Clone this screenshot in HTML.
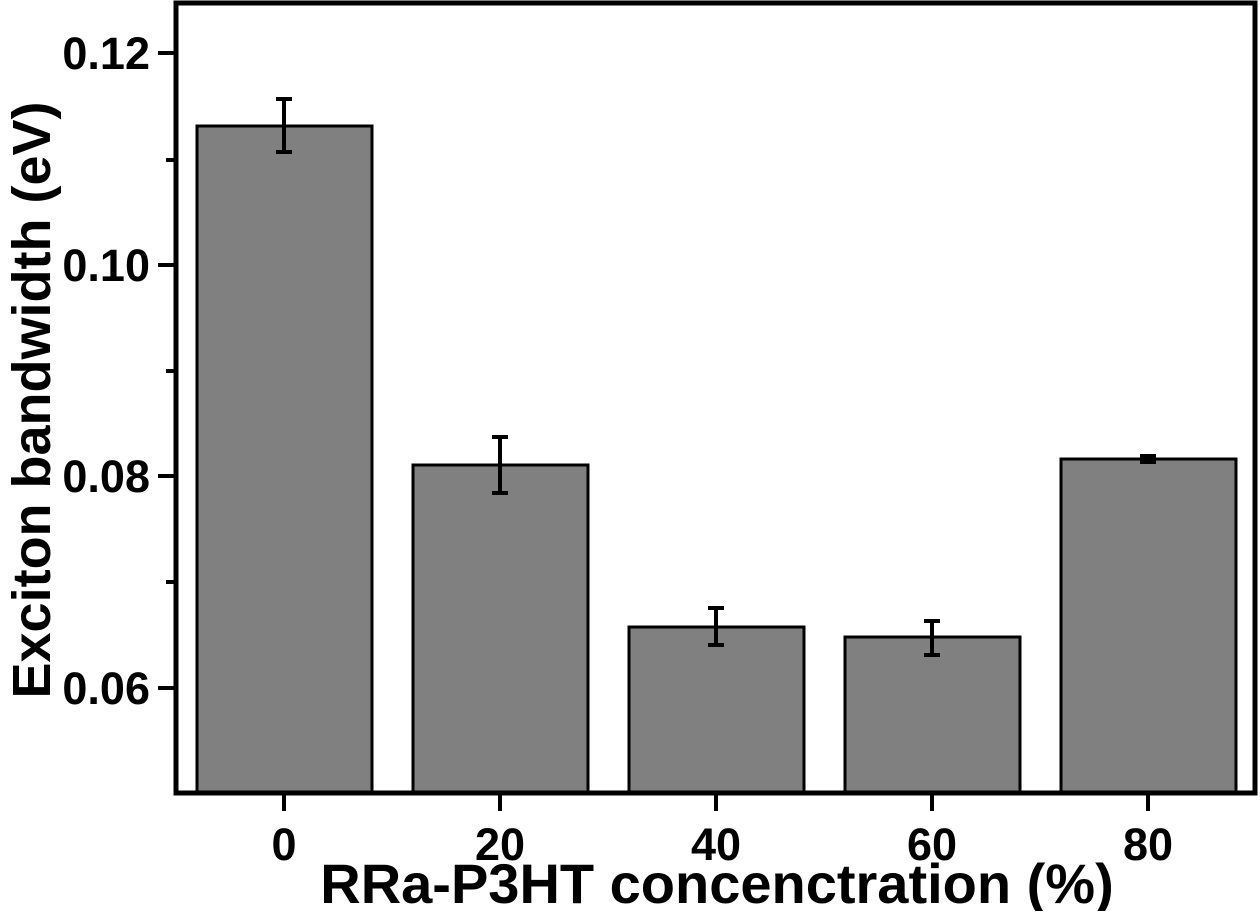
<!DOCTYPE html>
<html><head><meta charset="utf-8"><style>html,body{margin:0;padding:0;background:#fff}</style></head>
<body>
<svg width="1260" height="911" viewBox="0 0 1260 911" xmlns="http://www.w3.org/2000/svg" font-family="Liberation Sans, sans-serif" font-weight="bold">
<rect width="1260" height="911" fill="#fff"/>
<g fill="#808080" stroke="#000" stroke-width="3">
<rect x="197" y="126" width="175" height="667"/>
<rect x="413" y="465" width="175" height="328"/>
<rect x="629" y="627" width="175" height="166"/>
<rect x="845" y="637" width="175" height="156"/>
<rect x="1061" y="459" width="175" height="334"/>
</g>
<g stroke="#000" stroke-width="4" fill="none">
<path d="M284 99V152M276 99H292M276 152H292"/>
<path d="M500 437V493M492 437H508M492 493H508"/>
<path d="M716 608V645M708 608H724M708 645H724"/>
<path d="M932 621V655M924 621H940M924 655H940"/>
<path d="M1148 456V462M1140 456H1156M1140 462H1156"/>
</g>
<g stroke="#000" fill="none">
<path d="M176 3H1255V793H176Z" stroke-width="5"/>
<path d="M158 53H176M158 265H176M158 476H176M158 688H176M166 160H176M166 371H176M166 582H176" stroke-width="4"/>
<path d="M284 793V811M500 793V811M716 793V811M932 793V811M1148 793V811" stroke-width="4"/>
</g>
<g font-size="45" text-anchor="end">
<text x="150" y="69">0.12</text>
<text x="150" y="281">0.10</text>
<text x="150" y="492">0.08</text>
<text x="150" y="704">0.06</text>
</g>
<g font-size="45" text-anchor="middle">
<text x="284" y="860">0</text>
<text x="500" y="860">20</text>
<text x="716" y="860">40</text>
<text x="932" y="860">60</text>
<text x="1148" y="860">80</text>
</g>
<text x="717" y="903" font-size="56" text-anchor="middle">RRa-P3HT concenctration (%)</text>
<text transform="translate(50,400) rotate(-90)" font-size="54" text-anchor="middle">Exciton bandwidth (eV)</text>
</svg>
</body></html>
